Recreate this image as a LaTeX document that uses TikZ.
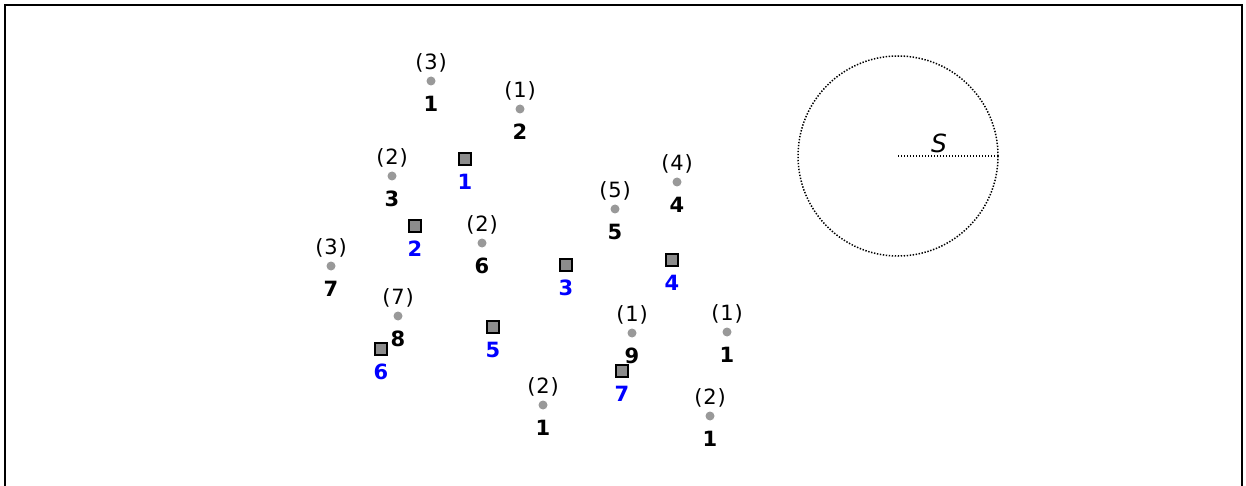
\documentclass[tikz,border=0pt]{standalone}
\usepackage{fontspec}
\setmainfont{DejaVu Sans}
\newfontfamily\cntfont[LetterSpace=4]{DejaVu Sans}
\begin{document}
\begin{tikzpicture}[x=1pt,y=-1pt,
  pt/.style={circle,fill=black!40,inner sep=0pt,minimum size=9pt},
  sq/.style={rectangle,draw=black,line width=1.6pt,fill=black!45,inner sep=0pt,minimum size=11.5pt},
  cnt/.style={inner sep=0pt,font=\cntfont\fontsize{21}{21}\selectfont},
  idx/.style={inner sep=0pt,font=\fontsize{21}{21}\selectfont\bfseries},
  sid/.style={inner sep=0pt,text=blue,font=\fontsize{21}{21}\selectfont\bfseries},
  dotline/.style={line width=1.5pt,dash pattern=on 1.4pt off 1.6pt}]
\useasboundingbox (0,0) rectangle (1246,486);
\clip (0,0) rectangle (1246,486);
\draw[line width=2.2pt] (5,500) -- (5,5) -- (1242,5) -- (1242,500);
% points
\foreach \n/\x/\y/\c/\i in {1/431/81/3/1, 2/520/109/1/2, 3/392/176/2/3, 4/677/182/4/4, 5/615/209/5/5, 6/482/243/2/6, 7/331/266/3/7, 8/398/316/7/8, 9/632/333/1/9, 10/727/332/1/1, 11/543/405/2/1, 12/710/416/2/1}{
  \node[pt] (p\n) at (\x,\y) {};
  \node[cnt] (c\n) at (\x,\y-18) {(\c)};
  \node[idx] (i\n) at (\x,\y+22.5) {\i};
}
% squares
\foreach \n/\x/\y in {1/465/159, 2/415/226, 3/566/265, 4/672/260, 5/493/327, 6/381/349, 7/622/371}{
  \node[sq] (s\n) at (\x,\y) {};
  \node[sid] (t\n) at (\x,\y+23) {\n};
}
% circle
\node[circle,draw,dotline,minimum size=200pt,inner sep=0pt] (circ) at (898,156) {};
\draw[dotline] (circ.center) -- (circ.east);
\node[inner sep=0pt,font=\fontsize{25}{25}\selectfont\itshape] (slab) at (939,143) {S};
\end{tikzpicture}
\end{document}
